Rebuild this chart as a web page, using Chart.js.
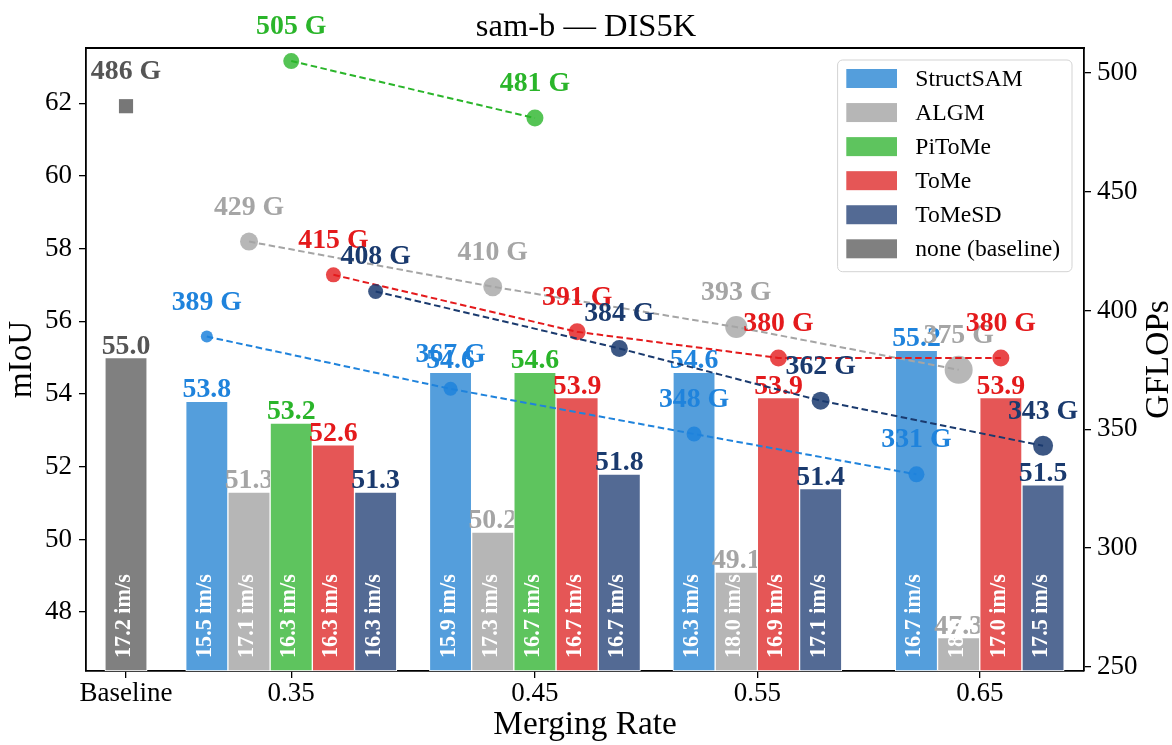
<!DOCTYPE html>
<html>
<head>
<meta charset="utf-8">
<script src="https://cdn.jsdelivr.net/npm/chart.js@4.4.1/dist/chart.umd.min.js"></script>
<style>
  html, body { margin: 0; padding: 0; background: #fff; }
  canvas { display: block; }
</style>
</head>
<body>
<canvas id="chart" width="1172" height="745"></canvas>
<script>
// ---- data ---------------------------------------------------------------
const GROUPS = ['Baseline', '0.35', '0.45', '0.55', '0.65'];
const METHODS = ['StructSAM', 'ALGM', 'PiToMe', 'ToMe', 'ToMeSD'];

// mIoU at merging rates 0.35 / 0.45 / 0.55 / 0.65 (null = not evaluated)
const MIOU_STRUCTSAM = [53.8, 54.6, 54.6, 55.2];
const MIOU_ALGM      = [51.3, 50.2, 49.1, 47.3];
const MIOU_PITOME    = [53.2, 54.6, null, null];
const MIOU_TOME      = [52.6, 53.9, 53.9, 53.9];
const MIOU_TOMESD    = [51.3, 51.8, 51.4, 51.5];

// GFLOPs at the same merging rates
const GFLOPS_STRUCTSAM = [389, 367, 348, 331];
const GFLOPS_ALGM      = [429, 410, 393, 375];
const GFLOPS_PITOME    = [505, 481, null, null];
const GFLOPS_TOME      = [415, 391, 380, 380];
const GFLOPS_TOMESD    = [408, 384, 362, 343];

// throughput, images per second
const THR_STRUCTSAM = [15.5, 15.9, 16.3, 16.7];
const THR_ALGM      = [17.1, 17.3, 18.0, 18.6];
const THR_PITOME    = [16.3, 16.7, null, null];
const THR_TOME      = [16.3, 16.7, 16.9, 17.0];
const THR_TOMESD    = [16.3, 16.7, 17.1, 17.5];

// unmerged model
const BASELINE_MIOU = 55.0;
const BASELINE_GFLOPS = 486;
const BASELINE_THR = 17.2;

const MIOU_TICKS = [48, 50, 52, 54, 56, 58, 60, 62];
const GFLOPS_TICKS = [250, 300, 350, 400, 450, 500];

// ---- layout -------------------------------------------------------------
// group centres along x, measured in bar widths from the baseline bar
const GROUP_X = [0, 3.915, 9.69, 14.96, 20.23];
const X_MIN = -0.948, X_MAX = 22.70;
const Y_MIN = 46.38, Y_MAX = 63.52;
const Y2_MIN = 248.2, Y2_MAX = 510.5;
const BAR_PX = 42.2;

const SERIF = "'Liberation Serif', 'Times New Roman', serif";

const STYLE = {
  StructSAM: { bar: '#549edc', text: '#1f83dc', point: 'rgba(31,131,220,0.85)', r: [6, 7, 7.5, 8] },
  ALGM:      { bar: '#b6b6b6', text: '#a5a5a5', point: 'rgba(165,165,165,0.8)', r: [9, 9.5, 11, 14] },
  PiToMe:    { bar: '#5ec45e', text: '#2ab52a', point: 'rgba(42,181,42,0.8)',   r: [8, 8.5] },
  ToMe:      { bar: '#e55656', text: '#e41a1c', point: 'rgba(228,26,28,0.8)',   r: [7.5, 8.5, 8.5, 8.5] },
  ToMeSD:    { bar: '#536a94', text: '#1a3a6e', point: 'rgba(26,58,110,0.85)',  r: [7.5, 8.5, 9, 10] }
};
const BASE_STYLE = { bar: '#808080', text: '#555555', point: 'rgba(85,85,85,0.8)' };

const MIOU = { StructSAM: MIOU_STRUCTSAM, ALGM: MIOU_ALGM, PiToMe: MIOU_PITOME, ToMe: MIOU_TOME, ToMeSD: MIOU_TOMESD };
const GFLOPS = { StructSAM: GFLOPS_STRUCTSAM, ALGM: GFLOPS_ALGM, PiToMe: GFLOPS_PITOME, ToMe: GFLOPS_TOME, ToMeSD: GFLOPS_TOMESD };
const THR = { StructSAM: THR_STRUCTSAM, ALGM: THR_ALGM, PiToMe: THR_PITOME, ToMe: THR_TOME, ToMeSD: THR_TOMESD };

// x slot of each method's bar inside every merging-rate group (bars packed side by side)
const slotX = {};
METHODS.forEach(m => { slotX[m] = []; });
for (let r = 0; r < GROUPS.length - 1; r++) {
  const present = METHODS.filter(m => MIOU[m][r] != null);
  present.forEach((m, k) => {
    slotX[m][r] = GROUP_X[r + 1] + (k - (present.length - 1) / 2);
  });
}

// ---- datasets -----------------------------------------------------------
const barCommon = {
  type: 'bar', kind: 'bar', grouped: false, barThickness: BAR_PX, base: Y_MIN,
  borderColor: '#ffffff', borderWidth: 1, borderSkipped: false, yAxisID: 'y'
};

const barSets = [
  Object.assign({}, barCommon, {
    label: 'none (baseline)', legendRank: 5, order: 30,
    data: [{ x: GROUP_X[0], y: BASELINE_MIOU }], thr: [BASELINE_THR],
    backgroundColor: BASE_STYLE.bar, textColor: BASE_STYLE.text
  }),
  ...METHODS.map((m, i) => {
    const idx = MIOU[m].map((v, r) => r).filter(r => MIOU[m][r] != null);
    return Object.assign({}, barCommon, {
      label: m, legendRank: i, order: 25 - i,
      data: idx.map(r => ({ x: slotX[m][r], y: MIOU[m][r] })),
      thr: idx.map(r => THR[m][r]),
      backgroundColor: STYLE[m].bar, textColor: STYLE[m].text
    });
  })
];

const lineSets = [
  ...METHODS.map((m, i) => {
    const idx = GFLOPS[m].map((v, r) => r).filter(r => GFLOPS[m][r] != null);
    return {
      type: 'line', kind: 'flops', label: m + ' GFLOPs', yAxisID: 'y2', order: 5 - i,
      data: idx.map(r => ({ x: slotX[m][r], y: GFLOPS[m][r] })),
      borderColor: STYLE[m].text, borderWidth: 2, borderDash: [6.5, 3.5],
      pointRadius: STYLE[m].r, pointHoverRadius: STYLE[m].r,
      pointBackgroundColor: STYLE[m].point, pointBorderWidth: 0,
      fill: false, tension: 0, textColor: STYLE[m].text
    };
  }),
  {
    type: 'line', kind: 'flops', label: 'baseline GFLOPs', yAxisID: 'y2', order: 0,
    data: [{ x: GROUP_X[0], y: BASELINE_GFLOPS }],
    showLine: false, pointStyle: 'rect', pointRadius: 10, pointHoverRadius: 10,
    pointBackgroundColor: BASE_STYLE.point, pointBorderWidth: 0,
    textColor: BASE_STYLE.text
  }
];

// ---- annotation plugin: value labels, throughput, GFLOPs labels, legend --
const annotate = {
  id: 'annotate',
  afterDatasetDraw(chart, args) {
    const ds = chart.data.datasets[args.index];
    if (ds.kind !== 'bar') return;
    const ctx = chart.ctx;
    const bottom = chart.chartArea.bottom;
    args.meta.data.forEach((el, i) => {
      const v = ds.data[i].y;
      ctx.save();
      ctx.font = `bold 27.8px ${SERIF}`;
      ctx.fillStyle = ds.textColor;
      ctx.textAlign = 'center';
      ctx.textBaseline = 'alphabetic';
      ctx.fillText(v.toFixed(1), el.x, el.y - 4);
      ctx.restore();

      ctx.save();
      ctx.translate(el.x + 4, bottom - 13);
      ctx.rotate(-Math.PI / 2);
      ctx.font = `bold 22.2px ${SERIF}`;
      ctx.fillStyle = '#ffffff';
      ctx.textAlign = 'left';
      ctx.textBaseline = 'alphabetic';
      ctx.fillText(ds.thr[i].toFixed(1) + ' im/s', 0, 0);
      ctx.restore();
    });
  },
  afterDatasetsDraw(chart) {
    const ctx = chart.ctx;
    chart.data.datasets.forEach((ds, di) => {
      if (ds.kind !== 'flops') return;
      const meta = chart.getDatasetMeta(di);
      meta.data.forEach((el, i) => {
        ctx.save();
        ctx.font = `bold 27.8px ${SERIF}`;
        ctx.fillStyle = ds.textColor;
        ctx.textAlign = 'center';
        ctx.textBaseline = 'alphabetic';
        ctx.fillText(ds.data[i].y + ' G', el.x, el.y - 27);
        ctx.restore();
      });
    });
  },
  afterDraw(chart) {
    const ctx = chart.ctx;
    const a = chart.chartArea;

    // top spine closes the frame
    ctx.save();
    ctx.strokeStyle = '#000';
    ctx.lineWidth = 1.8;
    ctx.beginPath();
    ctx.moveTo(a.left - 0.9, a.top);
    ctx.lineTo(a.right + 0.9, a.top);
    ctx.stroke();
    ctx.restore();

    // right-hand axis title, reading bottom to top
    ctx.save();
    ctx.translate(1159, (a.top + a.bottom) / 2);
    ctx.rotate(-Math.PI / 2);
    ctx.font = `33.3px ${SERIF}`;
    ctx.fillStyle = '#000';
    ctx.textAlign = 'center';
    ctx.textBaseline = 'middle';
    ctx.fillText('GFLOPs', 0, 0);
    ctx.restore();

    // legend
    const items = chart.data.datasets
      .filter(d => d.kind === 'bar')
      .sort((p, q) => p.legendRank - q.legendRank);
    const w = 234.4, h = 211.7;
    const lx = a.right - 12 - w, ly = a.top + 12;
    ctx.save();
    ctx.beginPath();
    ctx.roundRect(lx, ly, w, h, 5);
    ctx.fillStyle = 'rgba(255,255,255,0.8)';
    ctx.fill();
    ctx.strokeStyle = '#d3d3d3';
    ctx.lineWidth = 1;
    ctx.stroke();
    ctx.font = `23.6px ${SERIF}`;
    ctx.textBaseline = 'middle';
    ctx.textAlign = 'left';
    items.forEach((d, i) => {
      const cy = ly + 18.5 + i * 34.06;
      ctx.fillStyle = d.backgroundColor;
      ctx.fillRect(lx + 8.7, cy - 9.5, 50.7, 19);
      ctx.fillStyle = '#000';
      ctx.fillText(d.label, lx + 77.7, cy + 1);
    });
    ctx.restore();
  }
};

// ---- chart --------------------------------------------------------------
const tickFont = { family: SERIF, size: 27, weight: 'normal' };
const axisGrid = {
  display: true, drawOnChartArea: false, drawTicks: true,
  tickLength: 7, color: '#000', lineWidth: 1.3, offset: false
};
const axisBorder = { display: true, color: '#000', width: 1.8 };

new Chart(document.getElementById('chart'), {
  type: 'bar',
  data: { datasets: [...barSets, ...lineSets] },
  options: {
    responsive: false,
    devicePixelRatio: 1,
    animation: false,
    layout: { padding: 0 },
    plugins: {
      legend: { display: false },
      tooltip: { enabled: false },
      title: {
        display: true,
        text: 'sam-b — DIS5K',
        color: '#000',
        font: { family: SERIF, size: 32.5, weight: 'normal' },
        padding: { top: 7.5, bottom: 1.5 }
      }
    },
    scales: {
      x: {
        type: 'linear', min: X_MIN, max: X_MAX, offset: false, bounds: 'data',
        grid: axisGrid, border: axisBorder,
        ticks: {
          autoSkip: false, maxRotation: 0, minRotation: 0, padding: 0,
          color: '#000', font: tickFont,
          callback: (v, i) => GROUPS[i]
        },
        afterBuildTicks: s => { s.ticks = GROUP_X.map(v => ({ value: v })); },
        title: {
          display: true, text: 'Merging Rate', color: '#000',
          font: { family: SERIF, size: 33.3, weight: 'normal' }, padding: 0
        },
        afterFit: s => { s.height = 74; }
      },
      y: {
        type: 'linear', position: 'left', min: Y_MIN, max: Y_MAX, bounds: 'data',
        grid: axisGrid, border: axisBorder,
        ticks: { padding: 7, color: '#000', font: tickFont },
        afterBuildTicks: s => { s.ticks = MIOU_TICKS.map(v => ({ value: v })); },
        title: {
          display: true, text: 'mIoU', color: '#000',
          font: { family: SERIF, size: 33.3, weight: 'normal' }, padding: { top: 2, bottom: 0 }
        },
        afterFit: s => { s.width = 86; }
      },
      y2: {
        type: 'linear', position: 'right', min: Y2_MIN, max: Y2_MAX, bounds: 'data',
        grid: axisGrid, border: axisBorder,
        ticks: { padding: 6, color: '#000', font: tickFont },
        afterBuildTicks: s => { s.ticks = GFLOPS_TICKS.map(v => ({ value: v })); },
        title: { display: false },
        afterFit: s => { s.width = 88; }
      }
    }
  },
  plugins: [annotate]
});
</script>
</body>
</html>
